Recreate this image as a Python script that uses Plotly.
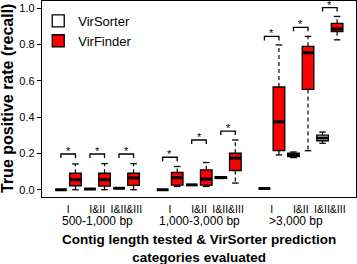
import plotly.graph_objects as go

# ---------------- data ----------------
groups = ["500-1,000 bp", "1,000-3,000 bp", ">3,000 bp"]
subcats = ["I", "I&II", "I&II&III"]

# VirSorter box statistics (9 boxes: group x subcategory)
vs_low = [0.000, 0.004, 0.008, 0.000, 0.027, 0.062, 0.007, 0.177, 0.256]
vs_q1 = [0.000, 0.004, 0.008, 0.000, 0.027, 0.063, 0.007, 0.182, 0.270]
vs_med = [0.000, 0.004, 0.008, 0.000, 0.027, 0.067, 0.007, 0.192, 0.285]
vs_q3 = [0.000, 0.004, 0.008, 0.000, 0.027, 0.071, 0.007, 0.201, 0.301]
vs_high = [0.000, 0.004, 0.008, 0.000, 0.027, 0.072, 0.007, 0.208, 0.318]

# VirFinder box statistics
vf_low = [0.000, 0.000, 0.000, 0.018, 0.018, 0.037, 0.192, 0.215, 0.826]
vf_q1 = [0.022, 0.020, 0.024, 0.025, 0.025, 0.106, 0.215, 0.553, 0.871]
vf_med = [0.055, 0.055, 0.065, 0.066, 0.059, 0.174, 0.374, 0.755, 0.886]
vf_q3 = [0.091, 0.091, 0.091, 0.095, 0.110, 0.201, 0.566, 0.790, 0.917]
vf_high = [0.142, 0.144, 0.144, 0.128, 0.150, 0.274, 0.798, 0.845, 0.955]

# significance bracket heights
bracket_y = [0.197, 0.197, 0.197, 0.179, 0.274, 0.323, 0.845, 0.895, 1.004]

# ---------------- positions ----------------
vs_pos, vf_pos = [], []
for g in range(len(groups)):
    for s in range(len(subcats)):
        p = 7 * g + 2 * s + 1
        vs_pos.append(p)
        vf_pos.append(p + 1)
pair_pos = [(a + b) / 2 for a, b in zip(vs_pos, vf_pos)]
group_pos = [sum(pair_pos[3 * g:3 * g + 3]) / 3 for g in range(len(groups))]

BOXW = 0.8
STAPLE = 0.45
RED = "#ff0000"
FONT = "Liberation Sans, Arial, sans-serif"

fig = go.Figure()


def add_series(name, pos, low, q1, med, q3, high, fill):
    fig.add_trace(go.Box(
        name=name, x=pos, q1=q1, median=med, q3=q3,
        lowerfence=q1, upperfence=q3, width=BOXW,
        fillcolor=fill, line=dict(color="black", width=1.3),
        showlegend=True, hoverinfo="skip"))
    wx, wy, sx, sy, mx, my = [], [], [], [], [], []
    for p, lo, a, m, b, hi in zip(pos, low, q1, med, q3, high):
        wx += [p, p, None, p, p, None]
        wy += [b, hi, None, a, lo, None]
        sx += [p - STAPLE / 2, p + STAPLE / 2, None, p - STAPLE / 2, p + STAPLE / 2, None]
        sy += [hi, hi, None, lo, lo, None]
        mx += [p - BOXW / 2, p + BOXW / 2, None]
        my += [m, m, None]
    fig.add_trace(go.Scatter(x=wx, y=wy, mode="lines", showlegend=False, hoverinfo="skip",
                             line=dict(color="black", width=1.2, dash="4px,3px")))
    fig.add_trace(go.Scatter(x=sx, y=sy, mode="lines", showlegend=False, hoverinfo="skip",
                             line=dict(color="black", width=1.3)))
    fig.add_trace(go.Scatter(x=mx, y=my, mode="lines", showlegend=False, hoverinfo="skip",
                             line=dict(color="black", width=3)))


add_series("VirSorter", vs_pos, vs_low, vs_q1, vs_med, vs_q3, vs_high, "white")
add_series("VirFinder", vf_pos, vf_low, vf_q1, vf_med, vf_q3, vf_high, RED)

# brackets
bx, by = [], []
DROP = 0.022
for a, b, y in zip(vs_pos, vf_pos, bracket_y):
    bx += [a, a, b, b, None]
    by += [y - DROP, y, y, y - DROP, None]
fig.add_trace(go.Scatter(x=bx, y=by, mode="lines", showlegend=False, hoverinfo="skip",
                         line=dict(color="black", width=1.3)))

annotations = []
for p, y in zip(pair_pos, bracket_y):
    annotations.append(dict(x=p, y=y, xref="x", yref="y", text="*", showarrow=False,
                            yanchor="bottom", yshift=-5,
                            font=dict(family=FONT, size=11, color="black")))

group_shift = [0, 0, -5]
for gp, gl, gs in zip(group_pos, groups, group_shift):
    annotations.append(dict(x=gp, y=0, xref="x", yref="paper", text=gl, showarrow=False,
                            yanchor="middle", yshift=-24, xshift=gs,
                            font=dict(family=FONT, size=12, color="black")))

annotations.append(dict(x=0.5, y=0, xref="paper", yref="paper",
                        text="<b>Contig length tested & VirSorter prediction<br>categories evaluated</b>",
                        showarrow=False, yanchor="middle", yshift=-51,
                        font=dict(family=FONT, size=13.5, color="black")))
annotations.append(dict(x=0, y=0.5, xref="paper", yref="paper",
                        text="<b>True positive rate (recall)</b>", textangle=-90,
                        showarrow=False, xanchor="center", xshift=-35,
                        font=dict(family=FONT, size=16, color="black")))

fig.update_layout(
    width=357, height=264,
    margin=dict(l=42, r=1, t=1, b=67),
    paper_bgcolor="white", plot_bgcolor="white",
    boxmode="overlay",
    font=dict(family=FONT, color="black"),
    annotations=annotations,
    legend=dict(x=-0.012, y=0.975, xanchor="left", yanchor="top",
                bgcolor="rgba(0,0,0,0)", font=dict(family=FONT, size=13, color="black"),
                tracegroupgap=0, itemwidth=30),
    xaxis=dict(range=[-0.3, 21.3], tickvals=pair_pos, ticktext=subcats * len(groups),
               showgrid=False, zeroline=False, showline=True, mirror=True,
               linecolor="black", linewidth=1.3, ticks="", ticklabelstandoff=2,
               tickfont=dict(family=FONT, size=10.5, color="black")),
    yaxis=dict(range=[-0.04, 1.04], tickvals=[0, 0.2, 0.4, 0.6, 0.8, 1.0],
               tickformat=".1f", showgrid=False, zeroline=False, showline=True,
               mirror=True, linecolor="black", linewidth=1.3, ticks="outside",
               ticklen=4, tickwidth=1, tickcolor="black",
               tickfont=dict(family=FONT, size=11, color="black")),
)

fig.write_html("out.html", config={"displayModeBar": False},
               post_script="document.body.style.margin='0';document.body.style.overflow='hidden';")
